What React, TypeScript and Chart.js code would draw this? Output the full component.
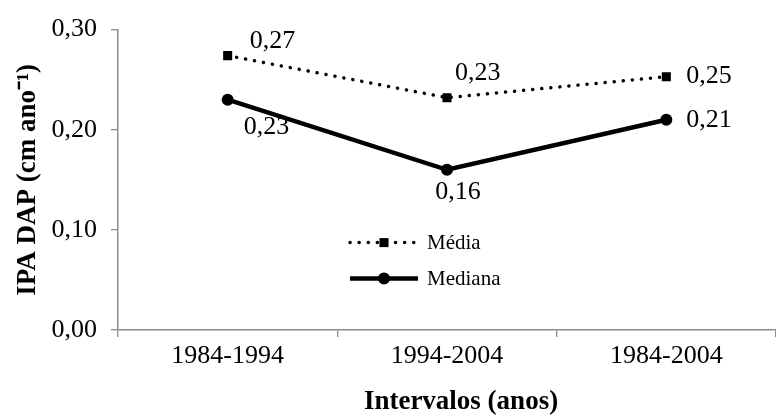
import React, { useEffect, useRef } from 'react';
import { Chart, registerables } from 'chart.js';

Chart.register(...registerables);

const categories = ['1984-1994', '1994-2004', '1984-2004'];
const seriesNames = ['Média', 'Mediana'];
const mediaValues = [0.274, 0.232, 0.253];
const medianaValues = [0.23, 0.16, 0.21];
const yTickValues = [0, 0.1, 0.2, 0.3];
const yTitle = 'IPA DAP (cm ano⁻¹)';
const xTitle = 'Intervalos (anos)';

const FONT = "'Liberation Serif', 'Times New Roman', serif";
const fmt = (v: number) => v.toFixed(2).replace('.', ',');

const labelPlugin = {
  id: 'pointLabels',
  afterDatasetsDraw(chart: any, _args: any, opts: any) {
    const ctx = chart.ctx;
    ctx.save();
    ctx.font = `${opts.size}px ${FONT}`;
    ctx.fillStyle = '#000';
    ctx.textBaseline = 'middle';
    chart.data.datasets.forEach((ds: any, di: number) => {
      const meta = chart.getDatasetMeta(di);
      const offs = opts.offsets[di];
      meta.data.forEach((el: any, i: number) => {
        const o = offs[i];
        ctx.textAlign = o.align;
        ctx.fillText(fmt(ds.data[i]), el.x + o.dx, el.y + o.dy);
      });
    });
    ctx.restore();
  },
};

const xTitlePlugin = {
  id: 'xTitleText',
  afterDraw(chart: any, _args: any, opts: any) {
    const ctx = chart.ctx;
    const area = chart.chartArea;
    ctx.save();
    ctx.font = `bold ${opts.size}px ${FONT}`;
    ctx.fillStyle = '#000';
    ctx.textAlign = 'center';
    ctx.textBaseline = 'middle';
    ctx.fillText(opts.text, (area.left + area.right) / 2 + opts.dx, area.bottom + opts.dy);
    ctx.restore();
  },
};

const legendPlugin = {
  id: 'innerLegend',
  afterDraw(chart: any, _args: any, opts: any) {
    const ctx = chart.ctx;
    const area = chart.chartArea;
    ctx.save();
    chart.data.datasets.forEach((ds: any, di: number) => {
      const x0 = area.left + opts.dx;
      const y = area.top + opts.dy + di * opts.rowGap;
      const x1 = x0 + opts.lineLen;
      ctx.strokeStyle = ds.borderColor;
      ctx.lineWidth = ds.borderWidth;
      ctx.lineCap = ds.borderCapStyle || 'butt';
      ctx.setLineDash(ds.borderDash || []);
      ctx.beginPath();
      ctx.moveTo(x0, y);
      ctx.lineTo(x1, y);
      ctx.stroke();
      ctx.setLineDash([]);
      ctx.fillStyle = ds.pointBackgroundColor;
      const r = ds.pointRadius;
      const cx = (x0 + x1) / 2;
      ctx.beginPath();
      if (ds.pointStyle === 'rect') {
        const s = Math.SQRT1_2 * r;
        ctx.rect(cx - s, y - s, 2 * s, 2 * s);
      } else {
        ctx.arc(cx, y, r, 0, Math.PI * 2);
      }
      ctx.fill();
      ctx.fillStyle = '#000';
      ctx.font = `${opts.size}px ${FONT}`;
      ctx.textAlign = 'left';
      ctx.textBaseline = 'middle';
      ctx.fillText(ds.label, x1 + opts.textGap, y + 1);
    });
    ctx.restore();
  },
};

export default function App() {
  const ref = useRef<HTMLCanvasElement | null>(null);
  useEffect(() => {
    if (!ref.current) return;
    const chart = new Chart(ref.current, {
      type: 'line',
      data: {
        labels: categories,
        datasets: [
          {
            label: seriesNames[0],
            data: mediaValues,
            borderColor: '#000',
            backgroundColor: '#000',
            borderWidth: 3.5,
            borderDash: [0.1, 9],
            borderCapStyle: 'round',
            pointStyle: 'rect',
            pointRadius: 6.4,
            pointBackgroundColor: '#000',
            pointBorderWidth: 0,
            tension: 0,
          },
          {
            label: seriesNames[1],
            data: medianaValues,
            borderColor: '#000',
            backgroundColor: '#000',
            borderWidth: 4.5,
            pointStyle: 'circle',
            pointRadius: 6,
            pointBackgroundColor: '#000',
            pointBorderWidth: 0,
            tension: 0,
          },
        ],
      } as any,
      options: {
        animation: false,
        responsive: false,
        maintainAspectRatio: false,
        layout: { autoPadding: false, padding: { top: 23, right: 0, bottom: 0, left: 0 } },
        plugins: {
          legend: { display: false },
          tooltip: { enabled: false },
          pointLabels: {
            size: 26,
            offsets: [
              [
                { dx: 22, dy: -14, align: 'left' },
                { dx: 8, dy: -25, align: 'left' },
                { dx: 20, dy: 0, align: 'left' },
              ],
              [
                { dx: 16, dy: 27, align: 'left' },
                { dx: 11, dy: 22, align: 'center' },
                { dx: 20, dy: 0, align: 'left' },
              ],
            ],
          },
          innerLegend: { dx: 232, dy: 213, rowGap: 36, lineLen: 68, textGap: 9, size: 21 },
          xTitleText: { text: xTitle, size: 27, dx: 14, dy: 72 },
        } as any,
        scales: {
          x: {
            type: 'category',
            offset: true,
            grid: {
              offset: true,
              drawOnChartArea: false,
              drawTicks: true,
              tickLength: 7,
              color: '#8c8c8c',
              lineWidth: 1.3,
            },
            border: { color: '#8c8c8c', width: 1.5 },
            ticks: { color: '#000', font: { family: FONT, size: 26 }, padding: 4, maxRotation: 0 },
            afterFit: (s: any) => {
              s.height = 89;
            },
          },
          y: {
            min: 0,
            max: 0.3,
            afterBuildTicks: (s: any) => {
              s.ticks = yTickValues.map((v) => ({ value: v }));
            },
            grid: {
              drawOnChartArea: false,
              drawTicks: true,
              tickLength: 7,
              color: '#8c8c8c',
              lineWidth: 1.3,
            },
            border: { color: '#8c8c8c', width: 1.5 },
            ticks: {
              color: '#000',
              font: { family: FONT, size: 26 },
              padding: 14,
              callback: (v: any) => fmt(Number(v)),
            },
            title: {
              display: true,
              text: yTitle,
              color: '#000',
              font: { family: FONT, size: 27, weight: 'bold' },
              padding: { top: 12, bottom: 0 },
            },
            afterFit: (s: any) => {
              s.width = 118;
            },
          },
        },
      } as any,
      plugins: [labelPlugin, legendPlugin, xTitlePlugin],
    });
    return () => chart.destroy();
  }, []);
  return (
    <div style={{ position: 'fixed', left: 0, top: 0, width: 776, height: 419, background: '#fff' }}>
      <canvas ref={ref} width={776} height={419} style={{ display: 'block' }} />
    </div>
  );
}
